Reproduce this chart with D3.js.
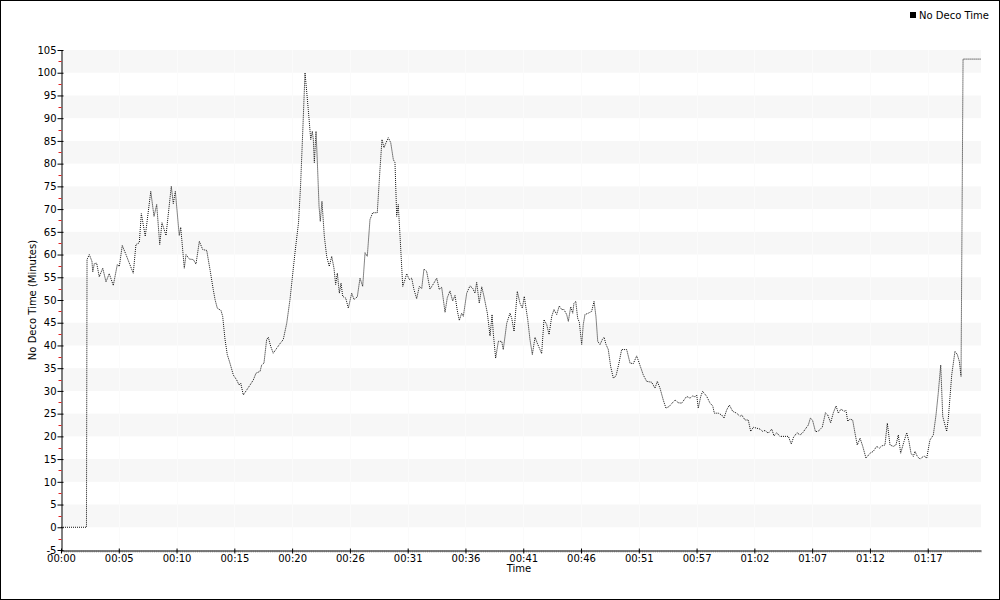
<!DOCTYPE html>
<html>
<head>
<meta charset="utf-8">
<script src="https://cdn.jsdelivr.net/npm/d3@7"></script>
<style>
  html, body { margin: 0; padding: 0; background: #fff; }
  svg { display: block; }
  text { font-family: "DejaVu Sans", Verdana, sans-serif; }
</style>
</head>
<body>
<svg id="chart" width="1000" height="600"></svg>
<script>
// ---- Data (time in minutes, No Deco Time in minutes) ----
const timeMin = [
  0, 2.27, 2.32, 2.52, 2.76, 2.83, 2.97, 3.18, 3.41, 3.72, 4.01, 4.30, 4.66, 5.02, 5.20, 5.46,
  5.79, 6.09, 6.44, 6.68, 6.98, 7.16, 7.51, 8.00, 8.29, 8.53, 8.80, 9.00, 9.36, 9.83, 10.01, 10.19,
  10.54, 10.67, 10.99, 11.14, 11.44, 11.79, 12.03, 12.33, 12.63, 12.99, 13.28, 13.57, 13.73, 13.93,
  14.26, 14.41, 14.62, 14.82, 15.06, 15.36, 15.66, 15.87, 16.02, 16.25, 16.55, 16.85, 17.14, 17.38,
  17.74, 17.89, 18.09, 18.33, 18.48, 18.69, 18.92, 19.23, 19.52, 19.81, 20.12, 20.41, 20.86, 21.17,
  21.35, 21.53, 21.75, 22.04, 22.26, 22.40, 22.49, 22.58, 22.73, 22.84, 23.00, 23.11, 23.26, 23.47,
  23.68, 23.91, 24.13, 24.33, 24.48, 24.63, 24.81, 24.96, 25.11, 25.38, 25.61, 25.91, 26.12, 26.41,
  26.65, 26.89, 27.10, 27.30, 27.54, 27.78, 28.19, 28.43, 28.61, 28.79, 28.97, 29.17, 29.39, 29.62,
  29.77, 29.92, 30.06, 30.22, 30.46, 30.66, 30.81, 31.04, 31.26, 31.46, 31.70, 31.94, 32.15, 32.35,
  32.59, 32.89, 33.18, 33.49, 33.72, 33.93, 34.23, 34.43, 34.67, 34.91, 35.12, 35.32, 35.50, 35.71,
  35.86, 36.16, 36.45, 36.69, 36.90, 37.05, 37.28, 37.50, 37.70, 38.00, 38.24, 38.42, 38.53, 38.74,
  38.98, 39.28, 39.42, 39.73, 40.02, 40.17, 40.38, 40.67, 40.91, 41.12, 41.29, 41.60, 41.80, 42.01,
  42.25, 42.45, 42.69, 42.84, 43.05, 43.29, 43.50, 43.74, 43.94, 44.18, 44.41, 44.63, 44.83, 45.07,
  45.22, 45.43, 45.61, 45.72, 45.88, 46.05, 46.20, 46.41, 46.55, 46.70, 47.00, 47.30, 47.51, 47.68,
  47.84, 48.04, 48.25, 48.40, 48.58, 48.78, 48.99, 49.23, 49.47, 49.73, 49.97, 50.42, 50.72, 51.01,
  51.31, 51.61, 51.90, 52.20, 52.65, 52.94, 53.15, 53.39, 53.68, 53.92, 54.22, 54.43, 54.73, 55.02,
  55.32, 55.53, 55.77, 56.06, 56.30, 56.51, 56.66, 56.80, 57.02, 57.19, 57.55, 57.85, 58.09, 58.23,
  58.59, 58.89, 59.09, 59.33, 59.57, 59.87, 60.22, 60.52, 60.67, 60.97, 61.26, 61.47, 61.71, 62.01,
  62.30, 62.54, 62.75, 63.04, 63.35, 63.55, 63.79, 64.08, 64.53, 64.83, 65.09, 65.29, 65.60, 65.87,
  66.11, 66.40, 66.61, 66.79, 66.98, 67.25, 67.52, 67.85, 68.14, 68.34, 68.60, 68.84, 69.08, 69.28,
  69.52, 69.79, 69.97, 70.12, 70.32, 70.56, 70.77, 70.97, 71.22, 71.46, 71.75, 72.11, 72.40, 72.70,
  72.94, 73.15, 73.44, 73.65, 73.89, 74.18, 74.42, 74.63, 74.84, 75.14, 75.38, 75.58, 75.76, 75.97,
  76.12, 76.32, 76.56, 76.92, 77.16, 77.45, 77.75, 77.99, 78.19, 78.41, 78.59, 78.94, 79.09, 79.39,
  79.68, 79.89, 80.07, 80.22, 80.40, 81.96
];
const noDecoTime = [
  0, 0, 58.9, 60.0, 58.5, 56.2, 58, 58.1, 55.1, 57, 54, 55.8, 53.2, 57.8, 57.4, 62,
  60, 58.1, 55.9, 62.2, 62.6, 69, 64, 73.9, 68.4, 71, 62.2, 67, 64.2, 75, 71.2, 73.9,
  64.2, 66, 57, 60, 59, 58.9, 57.9, 62.9, 61.1, 60.9, 56.7, 52.3, 50.1, 48.2,
  47.7, 46.4, 41.3, 38, 36.1, 33.5, 32.4, 31.3, 31.7, 29.1, 30.2, 31.3, 32.4, 33.9,
  34.3, 35.7, 36.1, 41.3, 41.8, 39.8, 38.3, 39.4, 40.4, 41.3, 44.9, 50.1, 60.5, 67,
  75, 86, 100, 91.9, 85.3, 87.1, 85.3, 80.2, 87.1, 80.9, 70.6, 67.3, 71.7, 64,
  59.6, 57.4, 59.6, 57, 53.4, 55.9, 51.5, 53.7, 50.8, 50.4, 48.2, 51.5, 50.1, 50.7,
  54.8, 53, 60.4, 59.6, 67.7, 69.2, 69.2, 78.7, 85.3, 83.5, 84.6, 85.7, 84.6, 80.9,
  80.2, 68.4, 71, 64, 53, 54.5, 55.8, 54.5, 54.8, 52.3, 50.3, 53, 52.5, 56.8,
  56.3, 52.4, 53.5, 54.8, 52.3, 52.8, 47.3, 50.5, 52, 49.8, 51, 47.7, 45.5, 47.1,
  46.4, 51.5, 53.1, 52.6, 51.5, 53.9, 49.3, 52.9, 50.8, 47.1, 42.1, 46.8, 42.7, 37.2,
  40.9, 40.9, 39.1, 44.9, 47.1, 46, 43.1, 51.9, 49.3, 48.2, 50.8, 45.7, 41.3, 38,
  41.8, 40.5, 39.1, 38.2, 45.7, 44.6, 42.4, 46.4, 47.9, 46.8, 48.7, 47.9, 47.9, 46.8,
  45.3, 48.5, 47.1, 49.3, 49.7, 46, 45.1, 40.2, 44.6, 46.8, 47.1, 47.5, 49.7, 46.4,
  40.9, 40.2, 41.3, 41.8, 40.2, 39.1, 35.4, 32.8, 33.3, 36.1, 39.1, 39.1, 36.1, 36,
  37.7, 35.6, 33.5, 32.1, 31.9, 30.6, 32.1, 30.6, 28, 26.2, 26.6, 27.2, 28, 27.4,
  27.3, 28, 28.8, 28.4, 28.9, 28.7, 29.1, 26.2, 28.8, 29.9, 28.8, 27.3, 26.7, 25.1,
  25.1, 24.7, 24, 25.8, 26.9, 25.5, 25.1, 24.4, 24.7, 23.6, 23.6, 21.1, 22, 21.8,
  21.6, 21.1, 21.3, 20.7, 21.6, 20.1, 20.8, 20, 20, 20, 18.3, 19.8, 20.8, 20.3,
  20.8, 21.8, 22.5, 24, 23.6, 21, 21.2, 22, 25.2, 24.7, 23, 25.2, 26.7, 25.1,
  26, 25.5, 25.7, 23.3, 23.8, 23.6, 20.7, 18.1, 19.6, 17.8, 15.2, 16.3, 16.7, 17.8,
  17.4, 17.9, 18.1, 22.9, 18.1, 17.8, 18.1, 20.3, 16.3, 18.9, 20.8, 18.9, 16.3, 15.6,
  16.7, 15.6, 15, 15.7, 15.2, 19.2, 20.3, 24.7, 29.5, 35.7, 24.4, 21.1, 24, 33.5,
  38.7, 38, 36.5, 33.2, 103, 103
];
const xTickMinutes = [0, 5.15, 10.3, 15.45, 20.6, 25.75, 30.9, 36.05, 41.2, 46.35, 51.5, 56.65, 61.8, 66.95, 72.1, 77.25];
const xTickLabels = ["00:00", "00:05", "00:10", "00:15", "00:20", "00:26", "00:31", "00:36", "00:41", "00:46", "00:51", "00:57", "01:02", "01:07", "01:12", "01:17"];
const yTickValues = [-5, 0, 5, 10, 15, 20, 25, 30, 35, 40, 45, 50, 55, 60, 65, 70, 75, 80, 85, 90, 95, 100, 105];
const seriesName = "No Deco Time";
const xTitle = "Time";
const yTitle = "No Deco Time (Minutes)";

if (timeMin.length !== noDecoTime.length) {
  throw new Error("length mismatch " + timeMin.length + " vs " + noDecoTime.length);
}

// ---- Layout ----
const W = 1000, H = 600;
const plotL = 61, plotR = 981, plotT = 50, plotB = 550;

const svg = d3.select("#chart");
const x = d3.scaleLinear().domain([0, 82]).range([plotL, plotR]);
const y = d3.scaleLinear().domain([-5, 105]).range([plotB, plotT]);

// outer border
svg.append("rect").attr("x", 0.5).attr("y", 0.5).attr("width", W - 1).attr("height", H - 1)
  .attr("fill", "#fff").attr("stroke", "#000").attr("stroke-width", 1);

// alternating bands
const bandStarts = d3.range(0, 105, 10);
svg.append("g").selectAll("rect").data(bandStarts).join("rect")
  .attr("x", plotL).attr("width", plotR - plotL)
  .attr("y", d => y(d + 5)).attr("height", d => y(d) - y(d + 5))
  .attr("fill", "#f7f7f7");

// faint vertical grid
svg.append("g").selectAll("line").data(xTickMinutes.slice(1)).join("line")
  .attr("x1", d => Math.round(x(d)) + 0.5).attr("x2", d => Math.round(x(d)) + 0.5)
  .attr("y1", plotT).attr("y2", plotB)
  .attr("stroke", "#fbfbfb").attr("stroke-width", 1);

// the series line
const line = d3.line().x((d, i) => x(timeMin[i])).y(d => y(d));
svg.append("path").datum(noDecoTime)
  .attr("d", line)
  .attr("fill", "none").attr("stroke", "#111").attr("stroke-width", 1)
  .attr("stroke-dasharray", "1,1");

// y axis
const yAxisG = svg.append("g").attr("transform", `translate(${plotL + 0.5},0)`);
yAxisG.call(d3.axisLeft(y).tickValues(yTickValues).tickSize(4).tickSizeOuter(0).tickFormat(d => String(d)));
yAxisG.select(".domain").attr("stroke", "#000");
yAxisG.selectAll(".tick line").attr("x1", 2).attr("x2", -4).attr("stroke", "#000");
yAxisG.selectAll(".tick text").attr("x", -5).attr("font-size", 10)
  .attr("font-family", "DejaVu Sans").attr("fill", "#000");
// red minor ticks
yAxisG.append("g").selectAll("line").data(yTickValues.slice(0, -1).map(v => v + 2.5)).join("line")
  .attr("x1", -3).attr("x2", 0)
  .attr("y1", d => Math.round(y(d)) + 0.5).attr("y2", d => Math.round(y(d)) + 0.5)
  .attr("stroke", "#e02020");

// x axis minor ticks (dense)
const minorX = d3.range(0, 82.01, 1 / 6);
svg.append("g").selectAll("line").data(minorX).join("line")
  .attr("x1", d => x(d)).attr("x2", d => x(d))
  .attr("y1", plotB + 0.5).attr("y2", plotB + 3)
  .attr("stroke", "#bbb").attr("stroke-width", 0.6);

// x axis
const xAxisG = svg.append("g").attr("transform", `translate(0,${plotB + 0.5})`);
xAxisG.call(d3.axisBottom(x).tickValues(xTickMinutes).tickSize(3).tickSizeOuter(0)
  .tickFormat((d, i) => xTickLabels[i]));
xAxisG.select(".domain").attr("stroke", "#000");
xAxisG.selectAll(".tick line").attr("y1", -2).attr("y2", 3).attr("stroke", "#000");
xAxisG.selectAll(".tick text").attr("y", 4).attr("font-size", 10)
  .attr("font-family", "DejaVu Sans").attr("fill", "#000");

// axis titles
svg.append("text").attr("x", (plotL + plotR) / 2 - 2).attr("y", 572)
  .attr("text-anchor", "middle").attr("font-size", 10).text(xTitle);
svg.append("text").attr("transform", `translate(36,${(plotT + plotB) / 2}) rotate(-90)`)
  .attr("text-anchor", "middle").attr("font-size", 10).text(yTitle);

// legend
const lg = svg.append("g").attr("transform", "translate(910,11)");
lg.append("rect").attr("x", 0).attr("y", 1).attr("width", 6).attr("height", 6).attr("fill", "#000");
lg.append("text").attr("x", 9).attr("y", 8).attr("font-size", 10).text(seriesName);
</script>
</body>
</html>
